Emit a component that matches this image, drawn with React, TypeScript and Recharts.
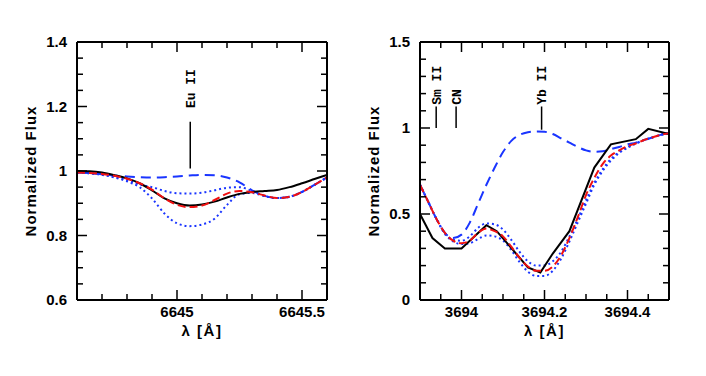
import React from "react";
import {
  LineChart,
  Line,
  XAxis,
  YAxis,
  ReferenceLine,
  ReferenceDot,
  Label,
} from "recharts";

// ---- left panel (Eu II 6645) ----
const waveL = [
  6644.6, 6644.65, 6644.7, 6644.75, 6644.8, 6644.85, 6644.9, 6644.95, 6645.0, 6645.05, 6645.1,
  6645.15, 6645.2, 6645.25, 6645.3, 6645.35, 6645.4, 6645.45, 6645.5, 6645.55, 6645.6,
];
const observedL = [
  1.0, 0.999, 0.995, 0.987, 0.977, 0.962, 0.94, 0.915, 0.9, 0.893, 0.896, 0.905, 0.918, 0.929,
  0.935, 0.938, 0.941, 0.95, 0.962, 0.975, 0.988,
];
const bestFitL = [
  0.995, 0.994, 0.991, 0.985, 0.976, 0.962, 0.942, 0.915, 0.895, 0.888, 0.893, 0.91, 0.93, 0.938,
  0.934, 0.924, 0.916, 0.92, 0.935, 0.957, 0.98,
];
const noLineL = [
  0.995, 0.993, 0.99, 0.986, 0.983, 0.981, 0.98, 0.981, 0.983, 0.986, 0.988, 0.987, 0.98, 0.965,
  0.94, 0.923, 0.916, 0.92, 0.935, 0.957, 0.98,
];
const lowL = [
  0.995, 0.993, 0.989, 0.982, 0.972, 0.958, 0.95, 0.938, 0.931, 0.93, 0.933, 0.94, 0.948, 0.95,
  0.938, 0.923, 0.916, 0.92, 0.935, 0.957, 0.98,
];
const highL = [
  0.995, 0.993, 0.988, 0.98, 0.968, 0.95, 0.915, 0.868, 0.838, 0.829, 0.834, 0.852, 0.895, 0.928,
  0.932, 0.922, 0.916, 0.92, 0.935, 0.957, 0.98,
];
const xTicksL = [
  6644.6, 6644.7, 6644.8, 6644.9, 6645.0, 6645.1, 6645.2, 6645.3, 6645.4, 6645.5, 6645.6,
];
const xMajorL = [6645, 6645.5];
const yTicksL = [
  0.6, 0.65, 0.7, 0.75, 0.8, 0.85, 0.9, 0.95, 1.0, 1.05, 1.1, 1.15, 1.2, 1.25, 1.3, 1.35, 1.4,
];
const yMajorL = [0.6, 0.8, 1, 1.2, 1.4];
const markersL = [{ name: "Eu II", x: 6645.053, y0: 1.008, y1: 1.153, textY: 1.195 }];

// ---- right panel (Yb II 3694) ----
const waveObsR = [
  3693.9, 3693.93, 3693.96, 3694.0, 3694.06, 3694.085, 3694.16, 3694.19, 3694.22, 3694.26,
  3694.32, 3694.36, 3694.42, 3694.45, 3694.5,
];
const observedR = [
  0.5, 0.36, 0.3, 0.3, 0.435, 0.4, 0.19, 0.16, 0.27, 0.4, 0.77, 0.905, 0.935, 0.995, 0.965,
];
const waveR = [
  3693.9, 3693.92, 3693.94, 3693.96, 3693.98, 3694.0, 3694.02, 3694.04, 3694.06, 3694.08, 3694.1,
  3694.12, 3694.14, 3694.16, 3694.18, 3694.2, 3694.22, 3694.24, 3694.26, 3694.28, 3694.3, 3694.32,
  3694.34, 3694.36, 3694.38, 3694.4, 3694.42, 3694.44, 3694.46, 3694.48, 3694.5,
];
const bestFitR = [
  0.67, 0.57, 0.47, 0.39, 0.345, 0.33, 0.345, 0.39, 0.415, 0.4, 0.37, 0.31, 0.245, 0.195, 0.17,
  0.17, 0.195, 0.26, 0.36, 0.48, 0.61, 0.71, 0.79, 0.84, 0.87, 0.895, 0.91, 0.93, 0.945, 0.96,
  0.97,
];
const noLineR = [
  0.67, 0.57, 0.47, 0.39, 0.36, 0.38, 0.45, 0.56, 0.67, 0.77, 0.86, 0.925, 0.96, 0.975, 0.98,
  0.978, 0.965, 0.94, 0.915, 0.89, 0.87, 0.862, 0.865, 0.877, 0.89, 0.905, 0.915, 0.93, 0.945,
  0.96, 0.97,
];
const lowR = [
  0.67, 0.57, 0.47, 0.39, 0.35, 0.345, 0.37, 0.42, 0.445, 0.44, 0.41, 0.35, 0.28, 0.225, 0.2, 0.2,
  0.225, 0.28, 0.37, 0.47, 0.58, 0.68, 0.76, 0.82, 0.86, 0.89, 0.91, 0.93, 0.945, 0.96, 0.97,
];
const highR = [
  0.67, 0.57, 0.47, 0.385, 0.34, 0.325, 0.33, 0.355, 0.375, 0.37, 0.345, 0.29, 0.22, 0.165, 0.14,
  0.14, 0.17, 0.24, 0.34, 0.45, 0.56, 0.67, 0.75, 0.81, 0.855, 0.885, 0.91, 0.93, 0.945, 0.96,
  0.97,
];
const xTicksR = [
  3693.9, 3693.95, 3694.0, 3694.05, 3694.1, 3694.15, 3694.2, 3694.25, 3694.3, 3694.35, 3694.4,
  3694.45, 3694.5,
];
const xMajorR = [3694, 3694.2, 3694.4];
const yTicksR = [0, 0.1, 0.2, 0.3, 0.4, 0.5, 0.6, 0.7, 0.8, 0.9, 1.0, 1.1, 1.2, 1.3, 1.4, 1.5];
const yMajorR = [0, 0.5, 1, 1.5];
const markersR = [
  { name: "Sm II", x: 3693.939, y0: 1.0, y1: 1.125, textY: 1.135 },
  { name: "CN", x: 3693.987, y0: 1.0, y1: 1.125, textY: 1.135 },
  { name: "Yb II", x: 3694.193, y0: 0.99, y1: 1.125, textY: 1.135 },
];

const SANS = "'Liberation Sans', Arial, Helvetica, sans-serif";
const MONO = "'Liberation Mono', 'DejaVu Sans Mono', monospace";
const BLUE = "#1a35ff";
const RED = "#f01010";

const zip = (xs: number[], ys: number[]) => xs.map((x, i) => ({ x, y: ys[i] }));
const isMajor = (v: number, majors: number[]) => majors.some((m) => Math.abs(m - v) < 1e-6);

type Side = "bottom" | "top" | "left" | "right";
const makeTick = (side: Side, majors: number[]) => (props: any) => {
  const { x, y, payload } = props;
  const v = payload.value as number;
  const major = isMajor(v, majors);
  const len = major ? 10 : 6;
  const label = major && (side === "bottom" || side === "left");
  let line;
  if (side === "bottom") line = <line x1={x} y1={y} x2={x} y2={y - len} />;
  else if (side === "top") line = <line x1={x} y1={y} x2={x} y2={y + len} />;
  else if (side === "left") line = <line x1={x} y1={y} x2={x + len} y2={y} />;
  else line = <line x1={x} y1={y} x2={x - len} y2={y} />;
  return (
    <g stroke="#000" strokeWidth={1.5}>
      {line}
      {label && side === "bottom" && (
        <text x={x} y={y + 17} textAnchor="middle" stroke="none" fill="#000" fontFamily={SANS} fontWeight="bold" fontSize={15}>
          {String(v)}
        </text>
      )}
      {label && side === "left" && (
        <text x={x - 10} y={y + 5} textAnchor="end" stroke="none" fill="#000" fontFamily={SANS} fontWeight="bold" fontSize={15}>
          {String(v)}
        </text>
      )}
    </g>
  );
};

const yTitle = (props: any) => {
  const vb = props.viewBox;
  const cx = vb.x + vb.width - 46;
  const cy = vb.y + vb.height / 2;
  return (
    <text x={cx} y={cy} dy="0.36em" transform={`rotate(-90 ${cx} ${cy})`} textAnchor="middle" fill="#000"
      fontFamily={SANS} fontWeight="bold" fontSize={15} letterSpacing={1}>
      Normalized Flux
    </text>
  );
};

const xTitle = (props: any) => {
  const vb = props.viewBox;
  return (
    <text x={vb.x + vb.width / 2} y={vb.y + 36} textAnchor="middle" fill="#000" fontFamily={SANS}
      fontWeight="bold" fontSize={15} letterSpacing={1.5}>
      λ [Å]
    </text>
  );
};

const markerText = (name: string) => (p: any) => (
  <text x={p.cx} y={p.cy} dy="0.36em" transform={`rotate(-90 ${p.cx} ${p.cy})`} textAnchor="start" fill="#000" fontFamily={MONO} fontWeight="bold" fontSize={13}>
    {name}
  </text>
);

type Series = { data: { x: number; y: number }[]; color: string; dash?: string; curve: "linear" | "monotone" };

const Panel: React.FC<{
  left: number;
  yAxisWidth: number;
  marginRight: number;
  xDomain: [number, number];
  yDomain: [number, number];
  xTicks: number[];
  xMajor: number[];
  yTicks: number[];
  yMajor: number[];
  series: Series[];
  markers: { name: string; x: number; y0: number; y1: number; textY: number }[];
}> = (p) => (
  <div style={{ position: "absolute", left: p.left, top: 0 }}>
    <LineChart width={353} height={376} margin={{ top: 41, right: p.marginRight, bottom: 0, left: 0 }}>
      <XAxis xAxisId="b" type="number" dataKey="x" domain={p.xDomain} allowDataOverflow ticks={p.xTicks} interval={0}
        tick={makeTick("bottom", p.xMajor)} tickLine={false} tickSize={0} tickMargin={0} height={76}
        axisLine={{ stroke: "#000", strokeWidth: 2 }}>
        <Label content={xTitle} />
      </XAxis>
      <XAxis xAxisId="t" orientation="top" type="number" dataKey="x" domain={p.xDomain} allowDataOverflow ticks={p.xTicks} interval={0}
        tick={makeTick("top", p.xMajor)} tickLine={false} tickSize={0} tickMargin={0} height={1}
        axisLine={{ stroke: "#000", strokeWidth: 2 }} />
      <YAxis yAxisId="l" type="number" domain={p.yDomain} allowDataOverflow ticks={p.yTicks} interval={0}
        tick={makeTick("left", p.yMajor)} tickLine={false} tickSize={0} tickMargin={0} width={p.yAxisWidth}
        axisLine={{ stroke: "#000", strokeWidth: 2 }}>
        <Label content={yTitle} />
      </YAxis>
      <YAxis yAxisId="r" orientation="right" type="number" domain={p.yDomain} allowDataOverflow ticks={p.yTicks} interval={0}
        tick={makeTick("right", p.yMajor)} tickLine={false} tickSize={0} tickMargin={0} width={1}
        axisLine={{ stroke: "#000", strokeWidth: 2 }} />
      {p.series.map((s, i) => (
        <Line key={i} xAxisId="b" yAxisId="l" data={s.data} dataKey="y" type={s.curve} stroke={s.color}
          strokeWidth={2} strokeDasharray={s.dash} dot={false} isAnimationActive={false} />
      ))}
      {p.markers.map((m) => (
        <ReferenceLine key={m.name + "l"} xAxisId="b" yAxisId="l" ifOverflow="visible"
          segment={[{ x: m.x, y: m.y0 }, { x: m.x, y: m.y1 }]} stroke="#000" strokeWidth={1.5} />
      ))}
      {p.markers.map((m) => (
        <ReferenceDot key={m.name + "t"} xAxisId="b" yAxisId="l" x={m.x} y={m.textY} r={0} ifOverflow="visible"
          shape={markerText(m.name)} />
      ))}
    </LineChart>
  </div>
);

export default function App() {
  const seriesL: Series[] = [
    { data: zip(waveL, highL), color: BLUE, dash: "2 3", curve: "monotone" },
    { data: zip(waveL, lowL), color: BLUE, dash: "2 3", curve: "monotone" },
    { data: zip(waveL, noLineL), color: BLUE, dash: "10 6", curve: "monotone" },
    { data: zip(waveL, observedL), color: "#000", curve: "monotone" },
    { data: zip(waveL, bestFitL), color: RED, dash: "8 4", curve: "monotone" },
  ];
  const seriesR: Series[] = [
    { data: zip(waveR, highR), color: BLUE, dash: "2 3", curve: "monotone" },
    { data: zip(waveR, lowR), color: BLUE, dash: "2 3", curve: "monotone" },
    { data: zip(waveR, noLineR), color: BLUE, dash: "10 6", curve: "monotone" },
    { data: zip(waveObsR, observedR), color: "#000", curve: "linear" },
    { data: zip(waveR, bestFitR), color: RED, dash: "8 4", curve: "monotone" },
  ];
  return (
    <div style={{ position: "absolute", left: 0, top: 0, width: 706, height: 376, background: "#fff" }}>
      <Panel left={0} yAxisWidth={77} marginRight={25} xDomain={[6644.6, 6645.6]} yDomain={[0.6, 1.4]}
        xTicks={xTicksL} xMajor={xMajorL} yTicks={yTicksL} yMajor={yMajorL} series={seriesL} markers={markersL} />
      <Panel left={353} yAxisWidth={67} marginRight={36} xDomain={[3693.9, 3694.5]} yDomain={[0, 1.5]}
        xTicks={xTicksR} xMajor={xMajorR} yTicks={yTicksR} yMajor={yMajorR} series={seriesR} markers={markersR} />
    </div>
  );
}
